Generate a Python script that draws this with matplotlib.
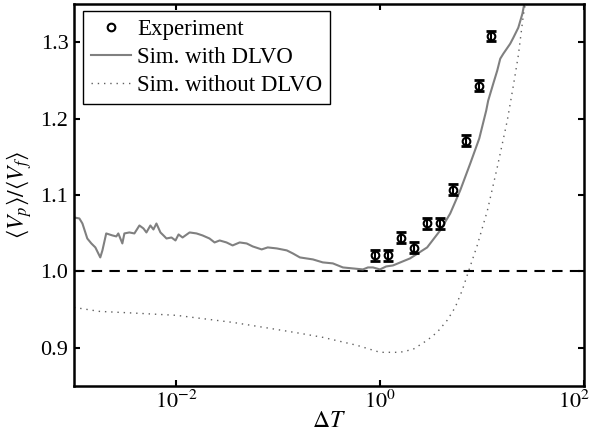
import math
import matplotlib
matplotlib.use("Agg")
import matplotlib.pyplot as plt
from matplotlib.ticker import FixedLocator, FuncFormatter, NullLocator
from matplotlib.transforms import ScaledTranslation

plt.rcParams["font.family"] = ["Liberation Serif", "DejaVu Serif"]
plt.rcParams["mathtext.fontset"] = "stix"

# Experimental data: time step and mean particle/fluid velocity ratio
exp_dT = [0.893, 1.199, 1.608, 2.158, 2.896, 3.888, 5.21, 7.00, 9.40, 12.3]
exp_ratio = [1.021, 1.021, 1.044, 1.031, 1.063, 1.063, 1.107, 1.171, 1.243, 1.308]
exp_err = [0.007] * len(exp_dT)

# Simulation including DLVO interactions
dlvo_dT = [0.00100, 0.00113, 0.00121, 0.00135, 0.00148, 0.00162, 0.00181, 0.00190,
           0.00207, 0.00238, 0.00260, 0.00272, 0.00298, 0.00312, 0.00349, 0.00391,
           0.00438, 0.00480, 0.00513, 0.00561, 0.00601, 0.00643, 0.00704, 0.00754,
           0.00807, 0.00903, 0.00989, 0.0106, 0.0116, 0.0136, 0.0159, 0.0182,
           0.0213, 0.0239, 0.0268, 0.0313, 0.0359, 0.0421, 0.0493, 0.0565,
           0.0692, 0.0793, 0.0972, 0.122, 0.140, 0.164, 0.220, 0.275, 0.345,
           0.433, 0.543, 0.681, 0.762, 0.853, 1.00, 1.15, 1.34, 1.97, 2.90,
           3.89, 4.88, 6.11, 7.67, 9.40, 11.0, 11.5, 12.9, 14.1, 15.1, 16.2,
           18.9, 20.3, 22.7, 24.9, 26.0]
dlvo_ratio = [1.0706, 1.0693, 1.0627, 1.0431, 1.0366, 1.0314, 1.0183, 1.0275,
              1.0497, 1.0471, 1.0458, 1.0497, 1.0366, 1.0497, 1.0510, 1.0497,
              1.0601, 1.0562, 1.0510, 1.0601, 1.0549, 1.0627, 1.0510, 1.0471,
              1.0431, 1.0444, 1.0405, 1.0484, 1.0444, 1.0510, 1.0497, 1.0471,
              1.0431, 1.0379, 1.0405, 1.0379, 1.0340, 1.0379, 1.0366, 1.0327,
              1.0288, 1.0314, 1.0301, 1.0275, 1.0235, 1.0183, 1.0157, 1.0118, 1.0105,
              1.0052, 1.0039, 1.0026, 1.0052, 1.0052, 1.0026, 1.0065, 1.0078, 1.0170, 1.0314,
              1.0536, 1.0758, 1.1059, 1.1412, 1.1739, 1.2105, 1.2235, 1.2458, 1.2627,
              1.2784, 1.2850, 1.2980, 1.3059, 1.3190, 1.3373, 1.3503]

# Simulation without DLVO interactions
nodlvo_dT = [0.00100, 0.00177, 0.00438, 0.0101, 0.0359, 0.0830, 0.164, 0.275,
             0.594, 1.00, 1.57, 2.11, 2.90, 3.63, 4.55, 5.46, 6.40, 7.32, 8.98,
             11.3, 14.1, 17.7, 20.3, 22.7, 25.4, 26.6]
nodlvo_ratio = [0.9529, 0.9477, 0.9451, 0.9425, 0.9333, 0.9255, 0.9190, 0.9137,
                0.9033, 0.8941, 0.8941, 0.8980, 0.9098, 0.9203, 0.9359, 0.9529,
                0.9752, 0.9987, 1.0340, 1.0797, 1.1359, 1.1974, 1.2431, 1.2824,
                1.3346, 1.3503]

x_ticks = [1e-2, 1e0, 1e2]
y_ticks = [0.9, 1.0, 1.1, 1.2, 1.3]

fig = plt.figure(figsize=(5.9, 4.4), dpi=100)
ax = fig.add_axes([0.1254, 0.1227, 0.8644, 0.8682])

ax.axhline(1.0, color="black", lw=1.5, linestyle=(0, (5, 3.5)), zorder=1)

ax.plot(dlvo_dT, dlvo_ratio, color="#808080", lw=1.5, label="Sim. with DLVO", zorder=2)
ax.plot(nodlvo_dT, nodlvo_ratio, color="#606060", lw=1.0, linestyle=(0, (1, 3.5)),
        label="Sim. without DLVO", zorder=2)

ax.errorbar(exp_dT, exp_ratio, yerr=exp_err, fmt="none", ecolor="black",
            elinewidth=1.5, capsize=3.3, capthick=2.0, zorder=3)
ax.plot(exp_dT, exp_ratio, "o", mfc="none", mec="black", mew=1.5, ms=5.5,
        linestyle="none", label="Experiment", zorder=4)

ax.set_xscale("log")
ax.set_xlim(1e-3, 1e2)
ax.set_ylim(0.85, 1.35)

ax.xaxis.set_major_locator(FixedLocator(x_ticks))
ax.xaxis.set_minor_locator(NullLocator())
ax.xaxis.set_major_formatter(FuncFormatter(lambda v, p: r"$10^{%d}$" % round(math.log10(v))))
ax.yaxis.set_major_locator(FixedLocator(y_ticks))
ax.yaxis.set_major_formatter(FuncFormatter(lambda v, p: "%.1f" % v))

ax.tick_params(which="both", direction="in", top=True, right=True,
               length=4, width=1.5, labelsize=16)
ax.tick_params(axis="y", pad=4)
ax.tick_params(axis="x", pad=3)
for s in ax.spines.values():
    s.set_linewidth(1.8)

ax.set_xlabel(r"$\Delta T$", fontsize=17, labelpad=-1)
ax.set_ylabel(r"$\langle V_p\rangle/\langle V_f\rangle$", fontsize=17, labelpad=5)

handles, labels = ax.get_legend_handles_labels()
order = [labels.index("Experiment"), labels.index("Sim. with DLVO"), labels.index("Sim. without DLVO")]
leg = ax.legend([handles[i] for i in order], [labels[i] for i in order],
                loc="upper left", bbox_to_anchor=(0.0176, 0.982), borderaxespad=0,
                fontsize=16.5, frameon=True, fancybox=False, edgecolor="black",
                framealpha=1, handlelength=1.75, handletextpad=0.25,
                labelspacing=0.3, borderpad=0.35)
leg.get_frame().set_linewidth(1.0)

# keep the rightmost decade label inside the canvas
last_label = ax.xaxis.get_major_ticks()[-1].label1
last_label.set_transform(last_label.get_transform()
                         + ScaledTranslation(-7 / 72, 0, fig.dpi_scale_trans))

fig.savefig("out.png", dpi=100)
